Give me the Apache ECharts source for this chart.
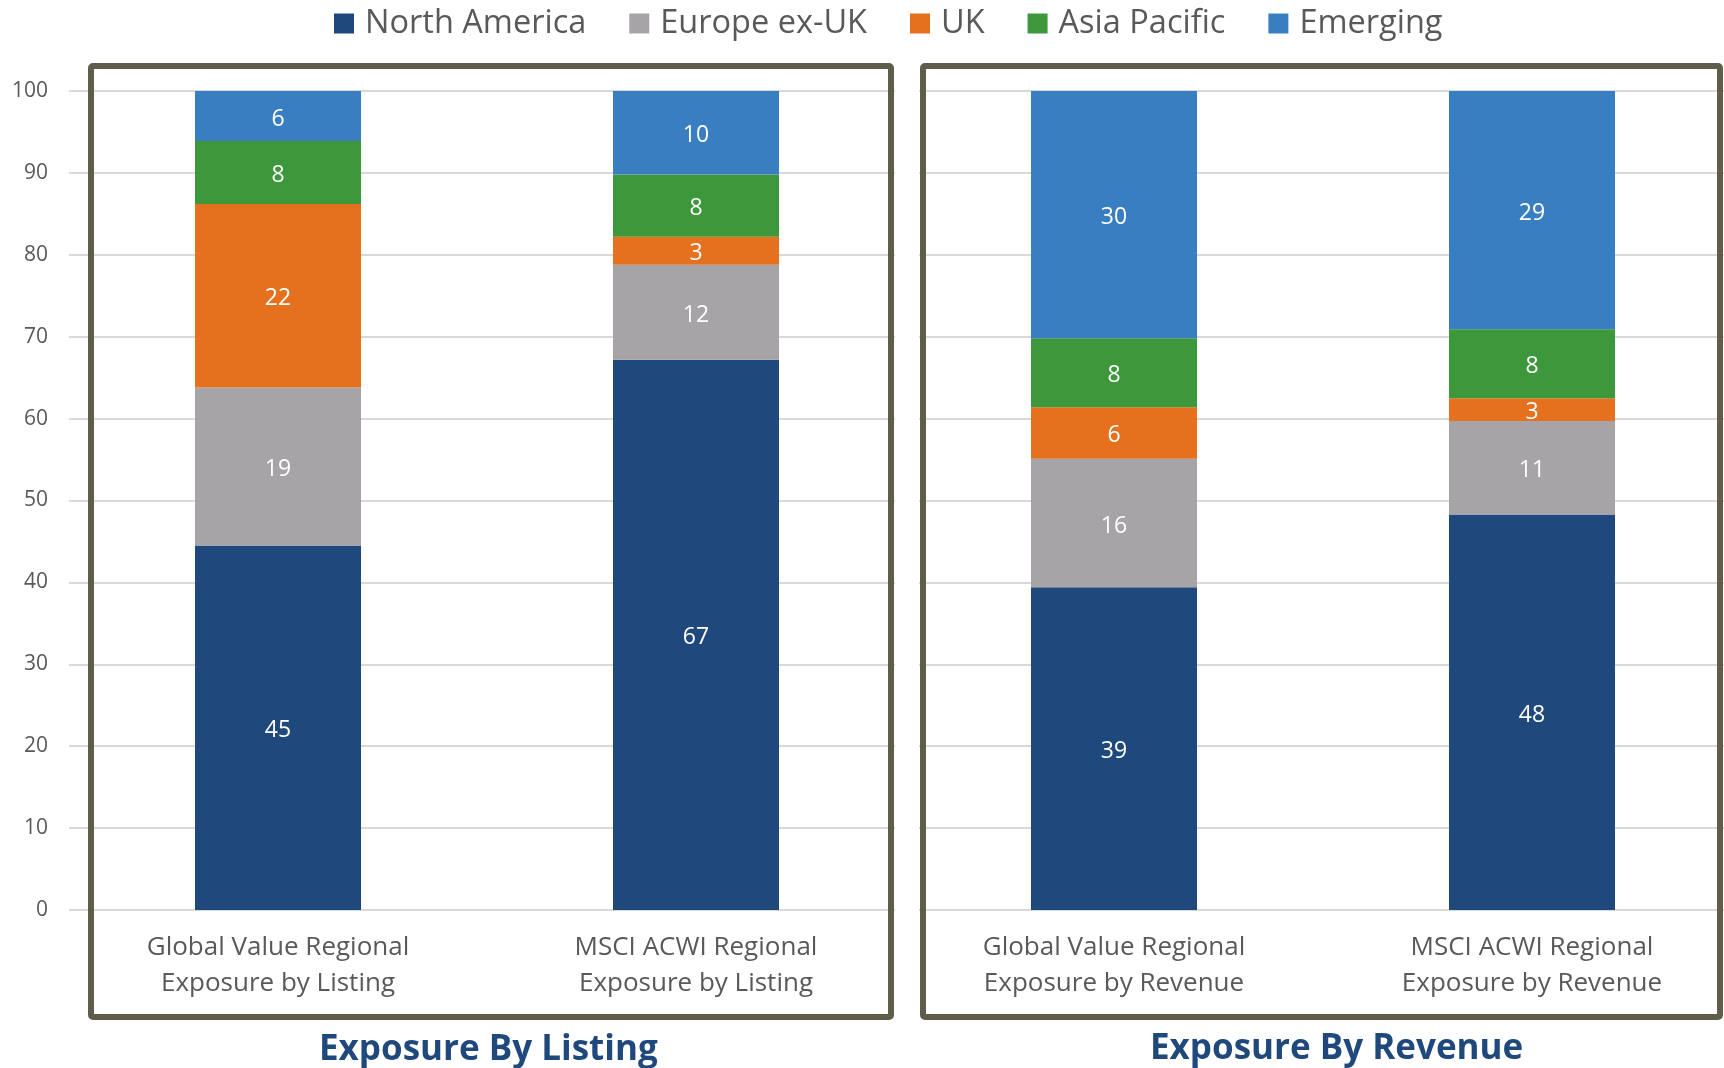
<!DOCTYPE html>
<html>
<head>
<meta charset="utf-8">
<script src="https://cdn.jsdelivr.net/npm/echarts@6/dist/echarts.min.js"></script>
<style>
html,body{margin:0;padding:0;background:#fff;overflow:hidden;width:1724px;height:1068px;}
#c{width:1741px;height:1068px;}
</style>
</head>
<body>
<div id="c"></div>
<script>
var categories = [
  "Global Value Regional\nExposure by Listing",
  "MSCI ACWI Regional\nExposure by Listing",
  "Global Value Regional\nExposure by Revenue",
  "MSCI ACWI Regional\nExposure by Revenue"
];
var seriesNames = ["North America", "Europe ex-UK", "UK", "Asia Pacific", "Emerging"];
var northAmerica = [44.5, 67.2, 39.4, 48.3];
var europeExUK   = [19.3, 11.6, 15.7, 11.4];
var uk           = [22.4, 3.4, 6.3, 2.8];
var asiaPacific  = [7.7, 7.6, 8.4, 8.4];
var emerging     = [6.1, 10.2, 30.2, 29.1];
var panelTitles  = ["Exposure By Listing", "Exposure By Revenue"];
var yTicks = [0, 10, 20, 30, 40, 50, 60, 70, 80, 90, 100];

var colors = ["#1f497d", "#a7a4a7", "#e5711e", "#3c983a", "#3a7ec2"];
var values = [northAmerica, europeExUK, uk, asiaPacific, emerging];
var FONT = "Open Sans";

var series = seriesNames.map(function (name, i) {
  return {
    name: name,
    type: "bar",
    stack: "total",
    barWidth: 166,
    data: values[i],
    itemStyle: { color: colors[i] },
    label: {
      show: true,
      position: "inside",
      offset: [0, 3],
      color: "#ffffff",
      fontFamily: FONT,
      fontSize: 23,
      formatter: function (p) { return Math.round(p.value); }
    }
  };
});

var chart = echarts.init(document.getElementById("c"));
chart.setOption({
  animation: false,
  backgroundColor: "#ffffff",
  color: colors,
  legend: {
    data: seriesNames,
    left: 334,
    top: 7,
    padding: 0,
    itemWidth: 20,
    itemHeight: 20,
    itemGap: 43,
    icon: "rect",
    textStyle: { fontFamily: FONT, fontSize: 32.5, color: "#595959", padding: [0, 0, 0, 6] }
  },
  grid: { left: 69, right: 0, top: 91, bottom: 158, containLabel: false },
  xAxis: {
    type: "category",
    data: categories,
    axisLine: { show: false },
    axisTick: { show: false },
    axisLabel: {
      margin: 20,
      fontFamily: FONT,
      fontSize: 26,
      lineHeight: 36,
      color: "#595959",
      interval: 0
    }
  },
  yAxis: {
    type: "value",
    min: yTicks[0],
    max: yTicks[yTicks.length - 1],
    interval: 10,
    axisLine: { show: false },
    axisTick: { show: false },
    axisLabel: { fontFamily: FONT, fontSize: 21, color: "#595959", margin: 21 },
    splitLine: { lineStyle: { color: "#d9d9d9", width: 2 } }
  },
  graphic: [
    { type: "rect", z: 100, silent: true, shape: { x: 895, y: 70, width: 24, height: 944 }, style: { fill: "#ffffff" } },
    { type: "rect", z: 101, silent: true, shape: { x: 91, y: 66, width: 800, height: 951, r: 2 },
      style: { fill: "none", stroke: "#5f5e4a", lineWidth: 6, lineJoin: "round" } },
    { type: "rect", z: 101, silent: true, shape: { x: 923, y: 66, width: 797, height: 951, r: 2 },
      style: { fill: "none", stroke: "#5f5e4a", lineWidth: 6, lineJoin: "round" } },
    { type: "text", z: 101, left: 489 - 170, top: 1033,
      style: { text: panelTitles[0], fontFamily: FONT, fontSize: 35, fontWeight: "bold", fill: "#1f497d", width: 340, align: "center" } },
    { type: "text", z: 101, left: 1340 - 190, top: 1032,
      style: { text: panelTitles[1], fontFamily: FONT, fontSize: 35, fontWeight: "bold", fill: "#1f497d", width: 380, align: "center" } }
  ],
  series: series
});
</script>
</body>
</html>
